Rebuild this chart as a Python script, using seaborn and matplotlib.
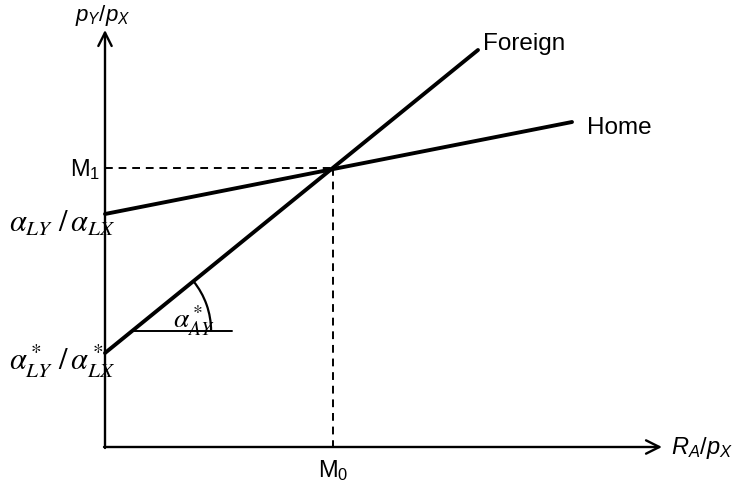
import numpy as np
import pandas as pd
import matplotlib
matplotlib.use("Agg")
import matplotlib.pyplot as plt
import seaborn as sns
from matplotlib.patches import Arc

sns.set_style("white")
plt.rcParams["font.family"] = ["Liberation Sans", "DejaVu Sans"]
plt.rcParams["mathtext.fontset"] = "custom"
plt.rcParams["mathtext.rm"] = "Liberation Sans"
plt.rcParams["mathtext.it"] = "Liberation Sans:italic"
plt.rcParams["text.color"] = "black"

# ---- data (schematic units, origin at the axes corner) ----
schedules = ["Home", "Foreign"]
home_x = [0, 467]
home_y = [233, 325]
foreign_x = [0, 373]
foreign_y = [94, 397]
m0 = 228            # R_A/p_X at intersection
m1 = 279            # p_Y/p_X at intersection
angle_ref_y = 116   # height of the horizontal reference for alpha*_AY
x_axis_end = 557
y_axis_end = 417

df = pd.DataFrame({
    "x": home_x + foreign_x,
    "y": home_y + foreign_y,
    "schedule": ["Home"] * 2 + ["Foreign"] * 2,
})

fig = plt.figure(figsize=(7.37, 4.83), dpi=100)
ax = fig.add_axes([0, 0, 1, 1])
ax.set_xlim(-105, 632)
ax.set_ylim(-36, 447)
ax.axis("off")

sns.lineplot(data=df, x="x", y="y", hue="schedule", units="schedule",
             estimator=None, palette={"Home": "black", "Foreign": "black"},
             linewidth=2.8, legend=False, ax=ax, sort=False)

# axes arrows
arrow_kw = dict(arrowstyle="->", lw=1.7, color="black", mutation_scale=24,
                shrinkA=0, shrinkB=0)
ax.annotate("", xy=(0, y_axis_end), xytext=(0, -1), arrowprops=arrow_kw)
ax.annotate("", xy=(x_axis_end, 0), xytext=(-1, 0), arrowprops=arrow_kw)

# dashed guides
ax.plot([0, m0], [m1, m1], ls=(0, (4, 3)), color="black", lw=1.4)
ax.plot([m0, m0], [m1, 0], ls=(0, (4, 3)), color="black", lw=1.4)

# angle marker
fslope = (foreign_y[1] - foreign_y[0]) / (foreign_x[1] - foreign_x[0])
cx = (angle_ref_y - foreign_y[0]) / fslope
ax.plot([cx, 127], [angle_ref_y, angle_ref_y], color="black", lw=1.4)
theta = np.degrees(np.arctan(fslope))
ax.add_patch(Arc((cx, angle_ref_y), 158, 158, theta1=0, theta2=theta,
                 color="black", lw=1.6))

# labels
ax.text(-2, 432, r"$p_Y/p_X$", ha="center", va="center", fontsize=16)
ax.text(566, -1, r"$R_A/p_X$", ha="left", va="center", fontsize=17)
ax.text(378, 403, "Foreign", ha="left", va="center", fontsize=17.5)
ax.text(482, 319, "Home", ha="left", va="center", fontsize=17.5)
ax.text(-5, m1 - 2, r"$\mathrm{M}_1$", ha="right", va="center", fontsize=17)
ax.text(m0, -24, r"$\mathrm{M}_0$", ha="center", va="center", fontsize=17)

ax.text(10, 223, r"$\alpha_{LY}\ /\, \alpha_{LX}$", ha="right", va="center",
        fontsize=22, math_fontfamily="stix")
ax.text(10, 86, r"$\alpha^*_{LY}\ /\, \alpha^*_{LX}$", ha="right", va="center",
        fontsize=22, math_fontfamily="stix")
ax.text(89, 126, r"$\alpha^*_{AY}$", ha="center", va="center",
        fontsize=20, math_fontfamily="stix")

fig.savefig("out.png", dpi=100)
